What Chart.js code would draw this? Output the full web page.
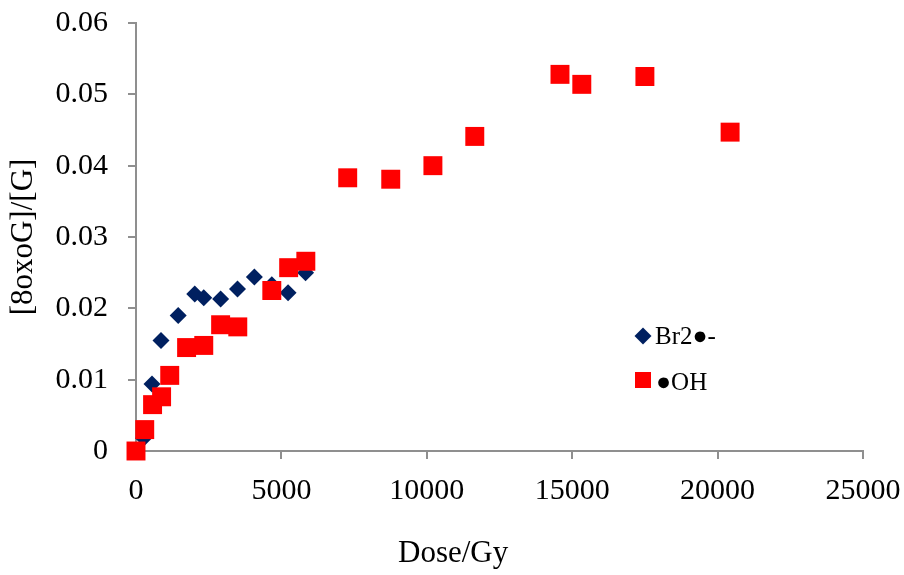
<!DOCTYPE html>
<html>
<head>
<meta charset="utf-8">
<script src="https://cdn.jsdelivr.net/npm/chart.js@4"></script>
<style>
    body { margin: 0; background: #fff; }
    #wrap { position: relative; width: 904px; height: 575px; }
    .leyenda { position: absolute; font-family: 'Liberation Serif', serif; font-size: 25px; color: #000; line-height: 25px; }
    .leyenda .item { position: absolute; white-space: nowrap; }
    .marca { position: absolute; }
    .tituloX { position: absolute; left: 398px; top: 532px; font-family: 'Liberation Serif', serif; font-size: 31px; line-height: 40px; color: #000; white-space: nowrap; }
</style>
</head>
<body>
<div id="wrap">
    <canvas id="doseChart" width="904" height="575"></canvas>
    <div class="leyenda" style="left:0;top:0;">
        <div class="marca" style="left:637px;top:330px;width:12px;height:12px;background:#002060;transform:rotate(45deg);"></div>
        <div class="item" style="left:655px;top:323px;">Br2●-</div>
        <div class="marca" style="left:635px;top:372px;width:16px;height:16px;background:#ff0000;"></div>
        <div class="item" style="left:656px;top:369px;">●OH</div>
    </div>
    <div class="tituloX">Dose/Gy</div>
</div>
<script>
// Datos
const brDose  = [0, 260, 550, 860, 1450, 2020, 2330, 2910, 3490, 4070, 4670, 5230, 5830];
const brRatio = [0, 0.0018, 0.0094, 0.0155, 0.019, 0.022, 0.0215, 0.0213, 0.0227, 0.0244, 0.0233, 0.0222, 0.025];

const ohDose  = [0, 300, 570, 880, 1160, 1740, 2330, 2910, 3500, 4670, 5250, 5840, 7280, 8760, 10210, 11650, 14580, 15330, 17500, 20430];
const ohRatio = [0, 0.003, 0.0065, 0.0076, 0.0106, 0.0145, 0.0148, 0.0177, 0.0174, 0.0225, 0.0257, 0.0266, 0.0383, 0.0381, 0.04, 0.0441, 0.0528, 0.0514, 0.0525, 0.0447];

const xTicks = [0, 5000, 10000, 15000, 20000, 25000];
const yTicks = [0, 0.01, 0.02, 0.03, 0.04, 0.05, 0.06];

function toPoints(xs, ys) {
    return xs.map((x, i) => ({ x: x, y: ys[i] }));
}

const axisColor = '#8f8f8f';
const serif = 'Liberation Serif';

new Chart(document.getElementById('doseChart'), {
    type: 'scatter',
    data: {
        datasets: [
            {
                label: 'Br2●-',
                data: toPoints(brDose, brRatio),
                pointStyle: 'rectRot',
                pointRadius: 8.5,
                pointHoverRadius: 8.5,
                backgroundColor: '#002060',
                borderWidth: 0,
                clip: false,
                order: 1
            },
            {
                label: '●OH',
                data: toPoints(ohDose, ohRatio),
                pointStyle: 'rect',
                pointRadius: 13.4,
                pointHoverRadius: 13.4,
                backgroundColor: '#ff0000',
                borderWidth: 0,
                clip: false,
                order: 0
            }
        ]
    },
    options: {
        responsive: false,
        animation: false,
        layout: { padding: { left: 0, right: 41, top: 23, bottom: 0 } },
        plugins: {
            legend: { display: false },
            tooltip: { enabled: false }
        },
        scales: {
            x: {
                type: 'linear',
                min: xTicks[0],
                max: xTicks[xTicks.length - 1],
                afterBuildTicks: scale => { scale.ticks = xTicks.map(v => ({ value: v })); },
                afterFit: scale => {
                    scale.height = 124;
                    scale.paddingLeft = 0;
                    scale.paddingRight = 0;
                },
                grid: { drawOnChartArea: false, drawTicks: true, tickLength: 8, color: axisColor, lineWidth: 2 },
                border: { color: axisColor, width: 2 },
                ticks: {
                    color: '#000',
                    padding: 14,
                    maxRotation: 0,
                    font: { family: serif, size: 30 },
                    callback: v => String(v)
                }
            },
            y: {
                type: 'linear',
                min: yTicks[0],
                max: yTicks[yTicks.length - 1],
                afterBuildTicks: scale => { scale.ticks = yTicks.map(v => ({ value: v })); },
                afterFit: scale => {
                    scale.width = 136;
                    scale.paddingTop = 0;
                    scale.paddingBottom = 0;
                },
                grid: { drawOnChartArea: false, drawTicks: true, tickLength: 8, color: axisColor, lineWidth: 2 },
                border: { color: axisColor, width: 2 },
                ticks: {
                    color: '#000',
                    padding: 20,
                    font: { family: serif, size: 30 },
                    callback: v => String(+v.toFixed(2))
                },
                title: {
                    display: true,
                    text: '[8oxoG]/[G]',
                    color: '#000',
                    padding: { top: 5, bottom: 0 },
                    font: { family: serif, size: 31 }
                }
            }
        }
    }
});
</script>
</body>
</html>
